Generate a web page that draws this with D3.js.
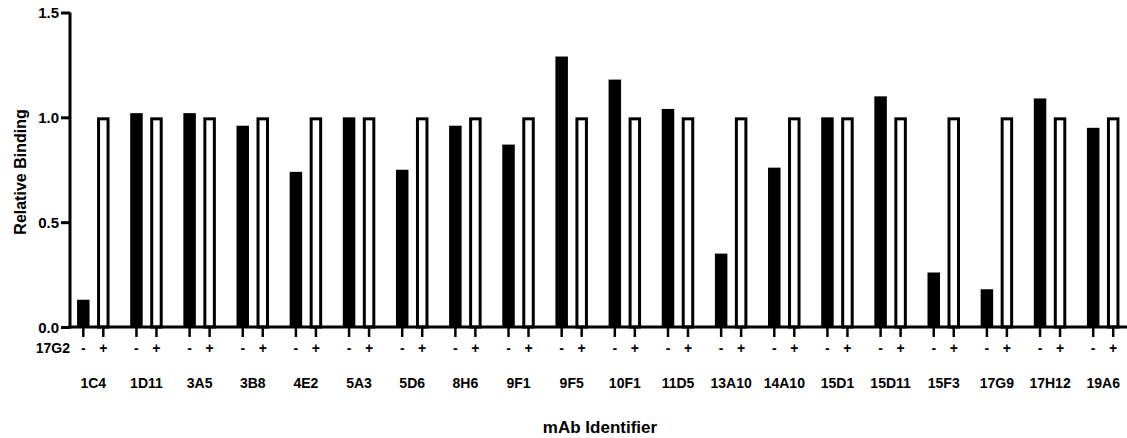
<!DOCTYPE html>
<meta charset="utf-8">
<script src="https://d3js.org/d3.v7.min.js"></script>
<style>
  body { margin: 0; background: #fff; }
  text { font-family: Arial, "Liberation Sans", sans-serif; font-weight: bold; fill: #000; }
</style>
<div id="chart"></div>
<script>

// mAb identifiers and relative binding, without (-) and with (+) 17G2
var groups = ["1C4","1D11","3A5","3B8","4E2","5A3","5D6","8H6","9F1","9F5","10F1","11D5","13A10","14A10","15D1","15D11","15F3","17G9","17H12","19A6"]
var minus17G2 = [0.13,1.02,1.02,0.96,0.74,1.00,0.75,0.96,0.87,1.29,1.18,1.04,0.35,0.76,1.00,1.10,0.26,0.18,1.09,0.95]
var plus17G2 = [1,1,1,1,1,1,1,1,1,1,1,1,1,1,1,1,1,1,1,1]
var conditions = ["-","+"]
var yTicks = [0, 0.5, 1.0, 1.5]

const width = 1127, height = 438

const svg = d3.select("#chart").append("svg")
  .attr("width", width).attr("height", height)

var yScale = d3.scaleLinear().domain([0, 1.5]).range([327, 12.5])
var xScale = d3.scalePoint().domain(groups).range([93.3, 1103.2])
var subScale = d3.scalePoint().domain(conditions).range([-10, 10])
var barW = 12.5, sw = 3

function label(x, y, txt, size, anchor, rot){
  svg.append("text")
    .attr("transform", "translate(" + x + "," + y + ")" + (rot ? " rotate(" + rot + ")" : ""))
    .attr("text-anchor", anchor || "middle")
    .style("font-size", size + "px")
    .text(txt)
}

// bars
var rows = groups.map(function(g, i){ return {g: g, minus: minus17G2[i], plus: plus17G2[i]} })

svg.selectAll(".minus").data(rows).enter().append("rect")
  .attr("class", "minus")
  .attr("x", d => xScale(d.g) + subScale("-") - barW/2)
  .attr("width", barW)
  .attr("y", d => yScale(d.minus))
  .attr("height", d => yScale(0) - yScale(d.minus))
  .attr("fill", "#000")

svg.selectAll(".plus").data(rows).enter().append("rect")
  .attr("class", "plus")
  .attr("x", d => xScale(d.g) + subScale("+") - barW/2 + sw/2)
  .attr("width", barW - sw)
  .attr("y", d => yScale(d.plus) + sw/2)
  .attr("height", d => yScale(0) - yScale(d.plus) - sw/2)
  .attr("fill", "#fff")
  .attr("stroke", "#000")
  .attr("stroke-width", sw)

// y axis
var yAxis = d3.axisLeft(yScale).tickValues(yTicks).tickSize(9).tickFormat("")
var gy = svg.append("g").attr("transform", "translate(70,0)").call(yAxis)
gy.select(".domain").attr("d", "M0," + yScale(1.5) + "V" + (yScale(0) + 1.5)).attr("stroke-width", 3)
gy.selectAll(".tick line").attr("stroke-width", 3)
yTicks.forEach(function(t){
  label(59, yScale(t) + 5.5, d3.format(".1f")(t), 15, "end")
})

// x axis line
svg.append("line")
  .attr("x1", 70 - 1.5).attr("x2", width)
  .attr("y1", yScale(0)).attr("y2", yScale(0))
  .attr("stroke", "#000").attr("stroke-width", 3)

// condition ticks and labels
groups.forEach(function(g){
  conditions.forEach(function(c){
    var x = xScale(g) + subScale(c)
    svg.append("line")
      .attr("x1", x).attr("x2", x)
      .attr("y1", yScale(0)).attr("y2", yScale(0) + 10)
      .attr("stroke", "#000").attr("stroke-width", 2.5)
    label(x, 353, c, 14)
  })
  label(xScale(g), 387.5, g, 14)
})

label(70, 353, "17G2", 14, "end")
label(600, 433, "mAb Identifier", 17)
label(26, 172, "Relative Binding", 16, "middle", -90)

</script>
